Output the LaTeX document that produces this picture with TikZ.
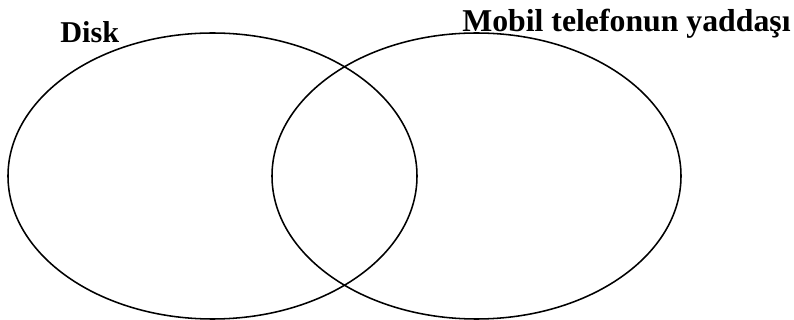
\documentclass[tikz,border=0pt]{standalone}
\usepackage{fontspec}
\setmainfont{Liberation Serif}
\usetikzlibrary{shapes.geometric,positioning}

\begin{document}
\begin{tikzpicture}[
  set/.style={
    draw=black, ellipse, line width=1.1pt, inner sep=0pt,
    minimum width=10.225cm, minimum height=7.15cm
  },
  lbl/.style={
    anchor=base west, inner sep=0pt,
    font=\fontsize{21.5}{25}\selectfont\bfseries
  }
]
\useasboundingbox (0,0) rectangle (19.85,-8);

%% ── SETS ──
\node[set] (disk) at (5.3125,-4.4) {};
\node[set] (phone) at (11.9125,-4.4) {};

%% ── SET LABELS ──
\node[lbl] (disklbl) at (1.5,-1.075) {Disk};
\node[lbl, font=\fontsize{22.6}{26}\selectfont\bfseries] (phonelbl)
  at (11.55,-0.8) {Mobil telefonun yaddaşı};

\end{tikzpicture}
\end{document}
